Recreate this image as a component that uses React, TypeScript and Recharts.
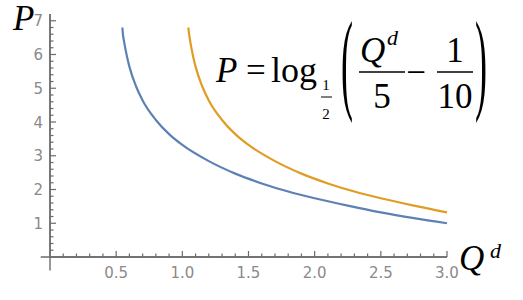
import { LineChart, Line, XAxis, YAxis, ReferenceLine } from 'recharts'

// curve samples (Q^d, P)
const blueQ = [0.547, 0.55, 0.56, 0.58, 0.6, 0.65, 0.7, 0.8, 0.9, 1.0, 1.2, 1.4, 1.6, 1.8, 2.0, 2.25, 2.5, 2.75, 3.0]
const blueP = [6.8, 6.64, 6.38, 5.97, 5.64, 5.06, 4.64, 4.06, 3.64, 3.32, 2.84, 2.47, 2.18, 1.94, 1.74, 1.52, 1.32, 1.15, 1.0]

const orangeQ = [1.045, 1.05, 1.06, 1.08, 1.1, 1.15, 1.2, 1.3, 1.4, 1.5, 1.7, 1.9, 2.1, 2.3, 2.5, 2.75, 3.0]
const orangeP = [6.8, 6.64, 6.38, 5.97, 5.64, 5.06, 4.64, 4.06, 3.64, 3.32, 2.84, 2.47, 2.18, 1.94, 1.74, 1.52, 1.32]

const xMajor = [0.5, 1.0, 1.5, 2.0, 2.5, 3.0]
const xMinor = [0.1, 0.2, 0.3, 0.4, 0.6, 0.7, 0.8, 0.9, 1.1, 1.2, 1.3, 1.4, 1.6, 1.7, 1.8, 1.9, 2.1, 2.2, 2.3, 2.4, 2.6, 2.7, 2.8, 2.9]
const yMajor = [1, 2, 3, 4, 5, 6, 7]
const yMinor = [0.2, 0.4, 0.6, 0.8, 1.2, 1.4, 1.6, 1.8, 2.2, 2.4, 2.6, 2.8, 3.2, 3.4, 3.6, 3.8, 4.2, 4.4, 4.6, 4.8, 5.2, 5.4, 5.6, 5.8, 6.2, 6.4, 6.6, 6.8]

const blueData = blueQ.map((q, i) => ({ q, p: blueP[i] }))
const orangeData = orangeQ.map((q, i) => ({ q, p: orangeP[i] }))

const AXIS = '#6b6b6b'
const LABEL = '#8a8a8a'
const tickFont = '"DejaVu Sans", sans-serif'
const serif = '"Liberation Serif", "Times New Roman", serif'

function XTick(props: any) {
  const { x, y, payload } = props
  const major = xMajor.includes(payload.value)
  return (
    <g>
      <line x1={x} y1={y} x2={x} y2={y - (major ? 6 : 3.5)} stroke={AXIS} strokeWidth={1.2} />
      {major && (
        <text x={x} y={y + 21} textAnchor="middle" fontSize={15} fontFamily={tickFont} fill={LABEL}>
          {payload.value.toFixed(1)}
        </text>
      )}
    </g>
  )
}

function YTick(props: any) {
  const { x, y, payload } = props
  const major = yMajor.includes(payload.value)
  return (
    <g>
      <line x1={x} y1={y} x2={x + (major ? 6 : 3.5)} y2={y} stroke={AXIS} strokeWidth={1.2} />
      {major && (
        <text x={x - 7} y={y + 5.5} textAnchor="end" fontSize={15} fontFamily={tickFont} fill={LABEL}>
          {payload.value}
        </text>
      )}
    </g>
  )
}

export default function App() {
  return (
    <div style={{ position: 'absolute', left: 0, top: 0, width: 523, height: 300, background: '#fff' }}>
      <LineChart width={523} height={300} margin={{ top: 14, right: 76, bottom: 42, left: 49 }}>
        <XAxis
          type="number"
          dataKey="q"
          domain={[0, 3]}
          ticks={[...xMinor, ...xMajor]}
          height={1}
          tickSize={0}
          tickMargin={0}
          interval={0}
          tick={<XTick />}
          axisLine={{ stroke: AXIS, strokeWidth: 1.4 }}
          tickLine={false}
        />
        <YAxis
          type="number"
          dataKey="p"
          domain={[0, 7.2]}
          ticks={[...yMinor, ...yMajor]}
          width={1}
          tickSize={0}
          tickMargin={0}
          interval={0}
          tick={<YTick />}
          axisLine={{ stroke: AXIS, strokeWidth: 1.4 }}
          tickLine={false}
        />
        <ReferenceLine segment={[{ x: -0.07, y: 0 }, { x: 3.0, y: 0 }]} stroke={AXIS} strokeWidth={1.4} ifOverflow="visible" />
        <ReferenceLine segment={[{ x: 0, y: -0.4 }, { x: 0, y: 7.2 }]} stroke={AXIS} strokeWidth={1.4} ifOverflow="visible" />
        <Line data={blueData} dataKey="p" type="monotone" stroke="#5e81b5" strokeWidth={2.2} dot={false} isAnimationActive={false} />
        <Line data={orangeData} dataKey="p" type="monotone" stroke="#e19c24" strokeWidth={2.2} dot={false} isAnimationActive={false} />
      </LineChart>
      <svg width={523} height={300} style={{ position: 'absolute', left: 0, top: 0, pointerEvents: 'none' }}>
        <text x={13} y={30} fontFamily={serif} fontStyle="italic" fontSize={35} fill="#000">P</text>
        <text x={459} y={270} fontFamily={serif} fontStyle="italic" fontSize={35} fill="#000">Q</text>
        <text x={490} y={258} fontFamily={serif} fontStyle="italic" fontSize={22} fill="#000">d</text>

        <text x={216} y={82} fontFamily={serif} fontStyle="italic" fontSize={35} fill="#000">P</text>
        <text x={246} y={82} fontFamily={serif} fontSize={35} fill="#000">=</text>
        <text x={271} y={82} fontFamily={serif} fontSize={36} fill="#000">log</text>
        <text x={326} y={90} textAnchor="middle" fontFamily={serif} fontSize={15} fill="#000">1</text>
        <line x1={321} y1={97} x2={332} y2={97} stroke="#000" strokeWidth={1} />
        <text x={326} y={119} textAnchor="middle" fontFamily={serif} fontSize={15} fill="#000">2</text>

        <text transform="translate(341,99) scale(1,3.1)" fontFamily={serif} fontSize={36} fill="#000">(</text>
        <text x={360} y={62} fontFamily={serif} fontStyle="italic" fontSize={35} fill="#000">Q</text>
        <text x={387} y={45} fontFamily={serif} fontStyle="italic" fontSize={22} fill="#000">d</text>
        <line x1={359} y1={72} x2={405} y2={72} stroke="#000" strokeWidth={1.3} />
        <text x={382} y={108} textAnchor="middle" fontFamily={serif} fontSize={35} fill="#000">5</text>
        <text x={416} y={84} textAnchor="middle" fontFamily={serif} fontSize={35} fill="#000">{'\u2212'}</text>
        <text x={455} y={62} textAnchor="middle" fontFamily={serif} fontSize={35} fill="#000">1</text>
        <line x1={437} y1={72} x2={473} y2={72} stroke="#000" strokeWidth={1.3} />
        <text x={455} y={108} textAnchor="middle" fontFamily={serif} fontSize={35} fill="#000">10</text>
        <text transform="translate(475,99) scale(1,3.1)" fontFamily={serif} fontSize={36} fill="#000">)</text>
      </svg>
    </div>
  )
}
